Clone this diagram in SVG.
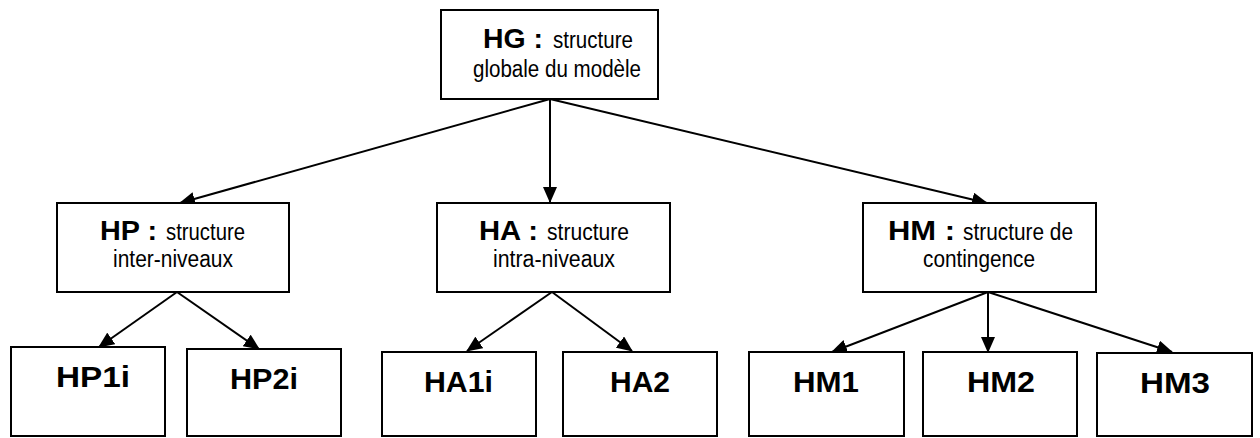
<svg xmlns="http://www.w3.org/2000/svg" width="1260" height="438" viewBox="0 0 1260 438">
<style>
.box{fill:#fff;stroke:#000;stroke-width:2}
.b{font-family:"Liberation Sans",Arial,sans-serif;font-weight:bold;font-size:27px;fill:#000}
.r{font-family:"Liberation Sans",Arial,sans-serif;font-weight:normal;font-size:23px;fill:#000}
.lbl{font-family:"Liberation Sans",Arial,sans-serif;font-weight:bold;font-size:30px;fill:#000}
.edge{stroke:#000;stroke-width:2;fill:none;marker-end:url(#arr)}
</style>
<defs>
<marker id="arr" viewBox="0 0 16 14" refX="15" refY="7" markerWidth="16" markerHeight="14" markerUnits="userSpaceOnUse" orient="auto">
<path d="M0,0 L16,7 L0,14 z" fill="#000"/>
</marker>
</defs>
<rect width="1260" height="438" fill="#fff"/>
<g id="connectors">
<line class="edge" x1="550" y1="99" x2="180" y2="203"/>
<line class="edge" x1="550" y1="99" x2="550" y2="202"/>
<line class="edge" x1="550" y1="99" x2="987" y2="203"/>
<line class="edge" x1="177" y1="292" x2="99" y2="347"/>
<line class="edge" x1="177" y1="292" x2="259" y2="349"/>
<line class="edge" x1="552" y1="292" x2="467" y2="351"/>
<line class="edge" x1="552" y1="292" x2="632" y2="351"/>
<line class="edge" x1="988" y1="292" x2="832" y2="352"/>
<line class="edge" x1="988" y1="292" x2="988" y2="352"/>
<line class="edge" x1="988" y1="292" x2="1172" y2="352"/>
</g>
<g id="HG">
<rect class="box" x="441" y="10" width="217" height="89"/>
<text class="b" x="483" y="48" textLength="60" lengthAdjust="spacingAndGlyphs">HG :</text>
<text class="r" x="553" y="48" textLength="80" lengthAdjust="spacingAndGlyphs">structure</text>
<text class="r" x="473" y="77" textLength="168" lengthAdjust="spacingAndGlyphs">globale du modèle</text>
</g>
<g id="HP">
<rect class="box" x="57" y="203" width="232" height="89"/>
<text class="b" x="100" y="240" textLength="57" lengthAdjust="spacingAndGlyphs">HP :</text>
<text class="r" x="166" y="240" textLength="79" lengthAdjust="spacingAndGlyphs">structure</text>
<text class="r" x="113" y="267" textLength="120" lengthAdjust="spacingAndGlyphs">inter-niveaux</text>
</g>
<g id="HA">
<rect class="box" x="437" y="203" width="233" height="89"/>
<text class="b" x="479" y="240" textLength="59" lengthAdjust="spacingAndGlyphs">HA :</text>
<text class="r" x="547" y="240" textLength="82" lengthAdjust="spacingAndGlyphs">structure</text>
<text class="r" x="493" y="267" textLength="122" lengthAdjust="spacingAndGlyphs">intra-niveaux</text>
</g>
<g id="HM">
<rect class="box" x="863" y="203" width="233" height="89"/>
<text class="b" x="888" y="240" textLength="67" lengthAdjust="spacingAndGlyphs">HM :</text>
<text class="r" x="963" y="240" textLength="110" lengthAdjust="spacingAndGlyphs">structure de</text>
<text class="r" x="923" y="267" textLength="112" lengthAdjust="spacingAndGlyphs">contingence</text>
</g>
<g id="HP1i">
<rect class="box" x="11" y="347" width="154" height="89"/>
<text class="lbl" x="56" y="387" textLength="74" lengthAdjust="spacingAndGlyphs">HP1i</text>
</g>
<g id="HP2i">
<rect class="box" x="187" y="349" width="154" height="87"/>
<text class="lbl" x="230" y="389" textLength="68" lengthAdjust="spacingAndGlyphs">HP2i</text>
</g>
<g id="HA1i">
<rect class="box" x="382" y="352" width="154" height="84"/>
<text class="lbl" x="424" y="392" textLength="69" lengthAdjust="spacingAndGlyphs">HA1i</text>
</g>
<g id="HA2">
<rect class="box" x="563" y="352" width="154" height="84"/>
<text class="lbl" x="610" y="392" textLength="60" lengthAdjust="spacingAndGlyphs">HA2</text>
</g>
<g id="HM1">
<rect class="box" x="749" y="352" width="155" height="84"/>
<text class="lbl" x="793" y="392" textLength="66" lengthAdjust="spacingAndGlyphs">HM1</text>
</g>
<g id="HM2">
<rect class="box" x="923" y="352" width="154" height="84"/>
<text class="lbl" x="967" y="392" textLength="68" lengthAdjust="spacingAndGlyphs">HM2</text>
</g>
<g id="HM3">
<rect class="box" x="1097" y="353" width="155" height="83"/>
<text class="lbl" x="1140" y="393" textLength="70" lengthAdjust="spacingAndGlyphs">HM3</text>
</g>
</svg>
